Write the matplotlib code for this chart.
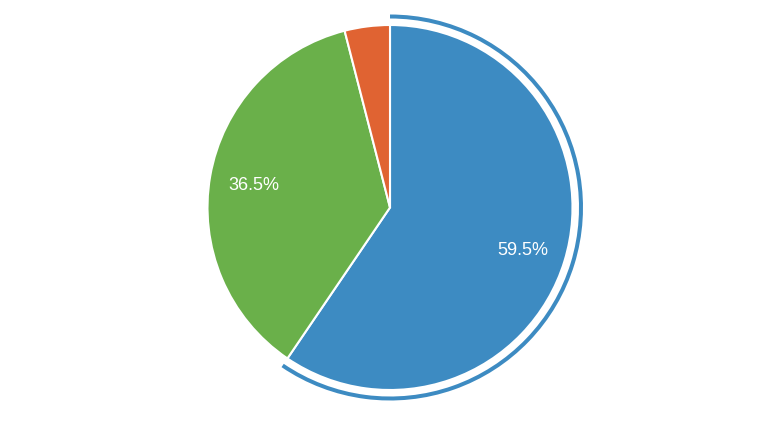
import matplotlib
matplotlib.use("Agg")
import matplotlib.pyplot as plt
from matplotlib.patches import Wedge

categories = ["A", "B", "C"]
values = [59.5, 36.5, 4.0]
colors = ["#3d8bc2", "#6ab04a", "#e06332"]
label_texts = ["59.5%", "36.5%", ""]

W, H = 784, 444
fig = plt.figure(figsize=(W / 100, H / 100), dpi=100)
ax = fig.add_axes([0, 0, 1, 1])
ax.set_xlim(0, W)
ax.set_ylim(0, H)
ax.set_aspect("equal")
ax.axis("off")

cx, cy, R = 390, H - 207.5, 182.5
wedges, texts = ax.pie(
    values, colors=colors, startangle=90, counterclock=False,
    center=(cx, cy), radius=R, labels=label_texts, labeldistance=0.76,
    wedgeprops=dict(edgecolor="white", linewidth=1.5), frame=True,
    textprops=dict(color="white", fontsize=13, family=["Liberation Sans", "DejaVu Sans"]),
)
for t in texts:
    t.set_horizontalalignment("center")
    t.set_verticalalignment("center_baseline")
ax.set_xlim(0, W)
ax.set_ylim(0, H)
ax.axis("off")

# highlight ring around the first (hovered) slice
w0 = wedges[0]
ring = Wedge((cx, cy), R + 10.5, w0.theta1, w0.theta2, width=4, facecolor=colors[0], edgecolor="none")
ax.add_patch(ring)

fig.savefig("out.png", dpi=100)
